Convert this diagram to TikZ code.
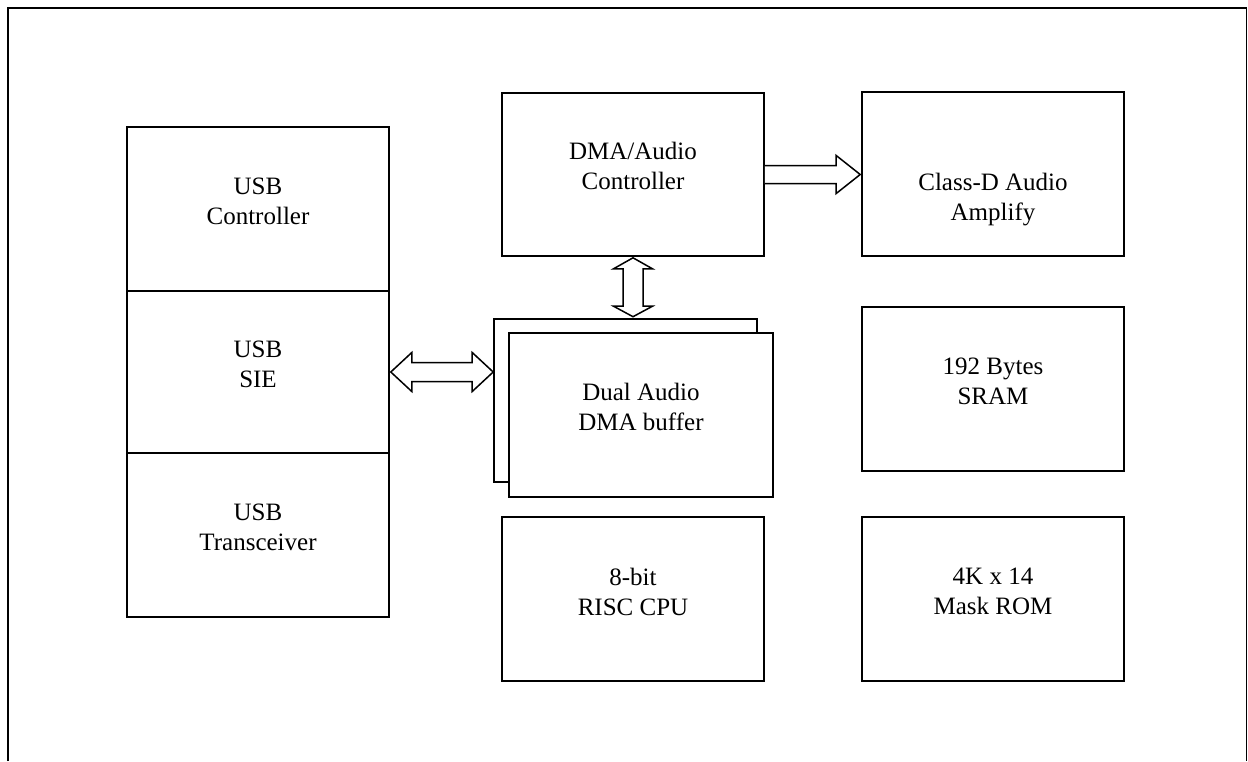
\documentclass[tikz,border=0pt]{standalone}
\usepackage{fontspec}
\setmainfont{Liberation Serif}
\usetikzlibrary{calc}
\tikzset{
  blk/.style={draw=black, fill=white, line width=1.6pt, rectangle, inner sep=0pt},
  txt/.style={align=center, font=\fontsize{25}{30}\selectfont, inner sep=0pt},
  hollow/.style={draw=black, fill=white, line width=1.5pt, line join=miter},
  frame/.style={draw=black, line width=1.5pt}
}
\begin{document}
\begin{tikzpicture}[x=1pt, y=-1pt]
  \useasboundingbox (0,0) rectangle (1248,761);
  % outer frame (open at the bottom)
  \coordinate (fbl) at (8,761);
  \coordinate (ftl) at (8,8);
  \coordinate (ftr) at (1246.5,8);
  \coordinate (fbr) at (1246.5,761);
  \draw[frame] (fbl) -- (ftl) -- (ftr) -- (fbr);

  % USB stack
  \node[blk, minimum width=262, minimum height=164] (ctl) at (258,209) {};
  \node[blk, minimum width=262, minimum height=162] (sie) at (258,372) {};
  \node[blk, minimum width=262, minimum height=164] (xcv) at (258,535) {};

  % centre column
  \node[blk, minimum width=262, minimum height=163] (dma) at (633,174.5) {};
  \node[blk, minimum width=263, minimum height=163] (bufb) at (625.5,400.5) {};
  \node[blk, minimum width=264, minimum height=164] (buff) at (641,415) {};
  \node[blk, minimum width=262, minimum height=164] (cpu) at (633,599) {};

  % right column
  \node[blk, minimum width=262, minimum height=164] (cls) at (993,174) {};
  \node[blk, minimum width=262, minimum height=164] (sram) at (993,389) {};
  \node[blk, minimum width=262, minimum height=164] (rom) at (993,599) {};

  % labels
  \node[txt] (tctl) at ([yshift=8pt]ctl.center) {USB\\Controller};
  \node[txt] (tsie) at ([yshift=8pt]sie.center) {USB\\SIE};
  \node[txt] (txcv) at ([yshift=8pt]xcv.center) {USB\\Transceiver};
  \node[txt] (tdma) at ([yshift=9pt]dma.center) {DMA/Audio\\Controller};
  \node[txt] (tbuf) at ([yshift=8pt]buff.center) {Dual Audio\\DMA buffer};
  \node[txt] (tcpu) at ([yshift=7pt]cpu.center) {8-bit\\RISC CPU};
  \node[txt] (tcls) at ([yshift=-26pt]cls.center) {Class-D Audio\\Amplify};
  \node[txt] (tsram) at ([yshift=8pt]sram.center) {192 Bytes\\SRAM};
  \node[txt] (trom) at ([yshift=8pt]rom.center) {4K x 14\\Mask ROM};

  % SIE <-> buffer
  \draw[hollow] let \p1=(sie.east), \p2=(bufb.west) in
    (\x1+1pt,\y1) -- (\x1+22pt,\y1+19.5pt) -- (\x1+22pt,\y1+9.5pt)
    -- (\x2-21pt,\y1+9.5pt) -- (\x2-21pt,\y1+19.5pt) -- (\x2,\y1)
    -- (\x2-21pt,\y1-19.5pt) -- (\x2-21pt,\y1-9.5pt)
    -- (\x1+22pt,\y1-9.5pt) -- (\x1+22pt,\y1-19.5pt) -- cycle;

  % DMA controller <-> buffer
  \draw[hollow] let \p1=(dma.south), \p2=(bufb.north) in
    (\x1,\y1-1pt) -- (\x1+19.5pt,\y1-12pt) -- (\x1+10pt,\y1-12pt)
    -- (\x1+10pt,\y2+12pt) -- (\x1+19.5pt,\y2+12pt) -- (\x1,\y2+1.5pt)
    -- (\x1-19.5pt,\y2+12pt) -- (\x1-10pt,\y2+12pt)
    -- (\x1-10pt,\y1-12pt) -- (\x1-19.5pt,\y1-12pt) -- cycle;

  % DMA controller -> amplifier
  \draw[hollow] let \p1=(dma.east), \p2=(cls.west) in
    (\x1,\y1+9pt) -- (\x2-25pt,\y1+9pt) -- (\x2-25pt,\y1+19pt)
    -- (\x2-1pt,\y1) -- (\x2-25pt,\y1-19pt) -- (\x2-25pt,\y1-9pt)
    -- (\x1,\y1-9pt);
\end{tikzpicture}
\end{document}
